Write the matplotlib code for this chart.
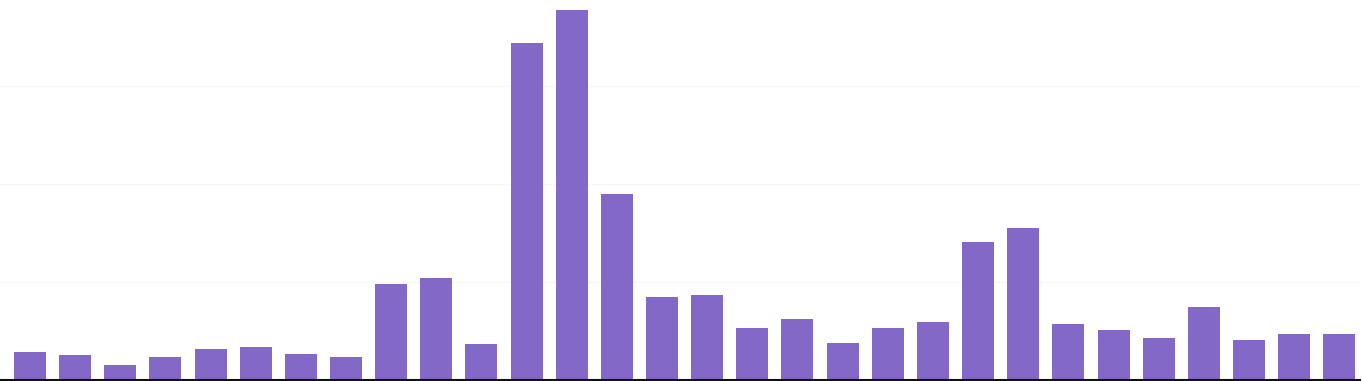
import matplotlib
matplotlib.use("Agg")
import matplotlib.pyplot as plt

categories = list(range(1, 31))
values = [27.6, 25.5, 15.3, 23.5, 31.6, 33.7, 26.5, 23.5, 98, 104,
          36.7, 344, 377.6, 190, 84.7, 86.7, 53, 62, 37.8, 53,
          59, 141, 155, 57, 51, 42, 74.5, 40, 46, 47]
yticks = [0, 100, 200, 300]

W, H = 1362, 381
fig = plt.figure(figsize=(W / 100, H / 100), dpi=100)
ax = fig.add_axes([0, 1.5 / H, 1360 / W, 1 - 1.5 / H])

x = list(range(len(categories)))
ax.bar(x, values, width=0.709, color="#8468c7", zorder=2)

ax.set_xlim(-0.665, 29.46)
ax.set_ylim(0, 387.8)
ax.set_yticks(yticks)
ax.yaxis.grid(True, color="#f7f7f7", linewidth=1.0, zorder=0)
ax.set_axisbelow(True)
ax.tick_params(left=False, bottom=False, labelleft=False, labelbottom=False)
for s in ["top", "right", "left"]:
    ax.spines[s].set_visible(False)
ax.spines["bottom"].set_color("#111111")
ax.spines["bottom"].set_linewidth(1.5)
ax.spines["bottom"].set_zorder(3)

fig.savefig("out.png", dpi=100)
